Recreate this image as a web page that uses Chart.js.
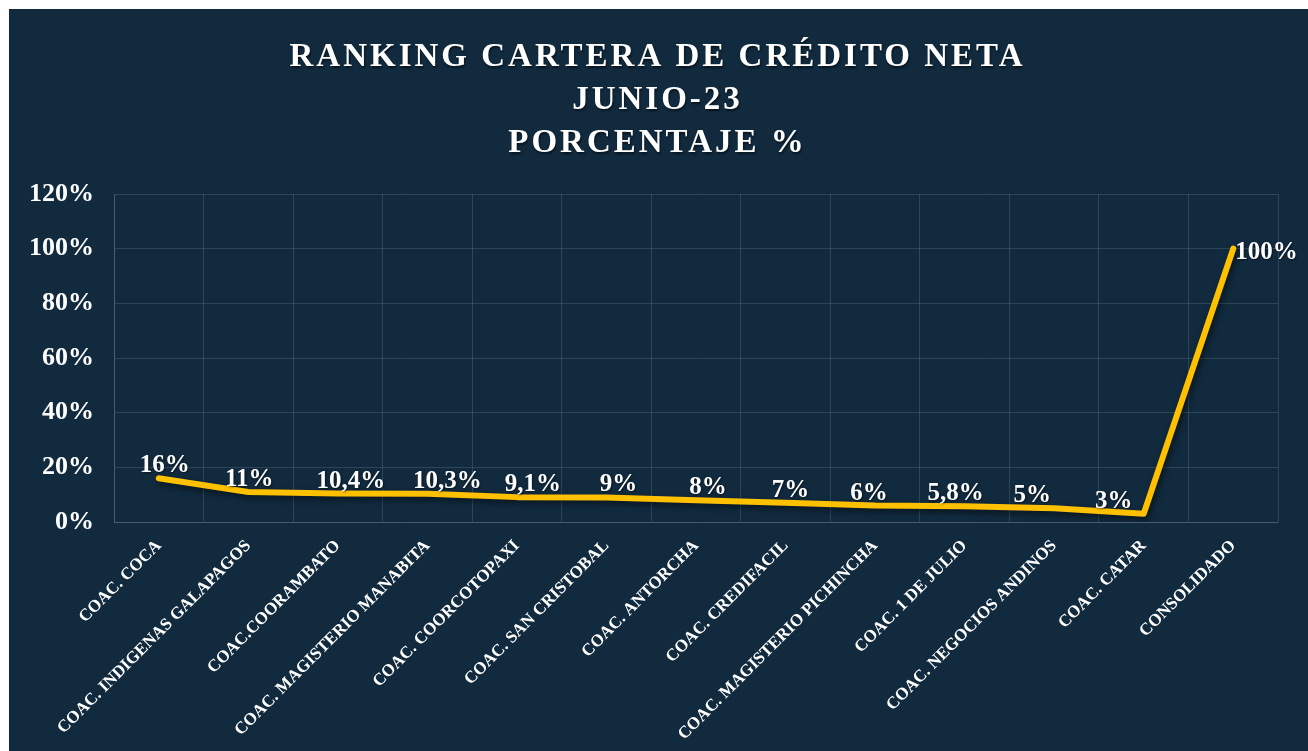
<!DOCTYPE html>
<html>
<head>
<meta charset="utf-8">
<script src="https://cdn.jsdelivr.net/npm/chart.js@4.4.0/dist/chart.umd.min.js"></script>
<style>
  body { margin: 0; background: #ffffff; }
  #wrap { position: absolute; left: 9px; top: 9px; width: 1299px; height: 742px; background: #112a3e; }
</style>
</head>
<body>
<div id="wrap"><canvas id="myChart" width="1299" height="742"></canvas></div>
<script>
//Categories (x axis)
var categories = [
    'COAC. COCA', 'COAC. INDIGENAS GALAPAGOS', 'COAC.COORAMBATO', 'COAC. MAGISTERIO MANABITA',
    'COAC. COORCOTOPAXI', 'COAC. SAN CRISTOBAL', 'COAC. ANTORCHA', 'COAC. CREDIFACIL',
    'COAC. MAGISTERIO PICHINCHA', 'COAC. 1 DE JULIO', 'COAC. NEGOCIOS ANDINOS', 'COAC. CATAR',
    'CONSOLIDADO'
];

//Series values (percent)
var values = [16, 11, 10.4, 10.3, 9.1, 9, 8, 7, 6, 5.8, 5, 3, 100];

//Labels shown over the points
var pointLabels = ['16%', '11%', '10,4%', '10,3%', '9,1%', '9%', '8%', '7%', '6%', '5,8%', '5%', '3%', '100%'];

//Title lines
var titleLines = ['RANKING CARTERA DE CRÉDITO NETA', 'JUNIO-23', 'PORCENTAJE %'];

var fontFamily = '"Liberation Serif", "DejaVu Serif", serif';
var gridColor = 'rgba(255,255,255,0.13)';

//Labels were nudged sideways by hand in the original
var labelShiftX = [6, 1, 13, 20, 16, 12, 12, 5, -6, -9, -22, -30, 2];

//Title drawn by hand (needs letter spacing)
var titlePlugin = {
    id: 'bigTitle',
    afterDraw: function (chart) {
        var ctx = chart.ctx;
        ctx.save();
        ctx.font = 'bold 33px ' + fontFamily;
        ctx.fillStyle = '#ffffff';
        ctx.textAlign = 'center';
        ctx.textBaseline = 'alphabetic';
        ctx.letterSpacing = '3px';
        ctx.shadowColor = 'rgba(0,0,0,0.5)';
        ctx.shadowOffsetX = 1;
        ctx.shadowOffsetY = 2;
        ctx.shadowBlur = 2;
        var baselines = [57, 100, 143];
        titleLines.forEach(function (t, i) {
            ctx.fillText(t, chart.width / 2 - 1, baselines[i]);
        });
        ctx.restore();
    }
};

//Shadow under the line
var lineShadow = {
    id: 'lineShadow',
    beforeDatasetsDraw: function (chart) {
        var ctx = chart.ctx;
        ctx.save();
        ctx.shadowColor = 'rgba(0,0,0,0.55)';
        ctx.shadowBlur = 6;
        ctx.shadowOffsetX = 2;
        ctx.shadowOffsetY = 3;
    },
    afterDatasetsDraw: function (chart) {
        chart.ctx.restore();
    }
};

//Value labels
var valueLabels = {
    id: 'valueLabels',
    afterDatasetsDraw: function (chart) {
        var ctx = chart.ctx;
        var meta = chart.getDatasetMeta(0);
        ctx.save();
        ctx.font = 'bold 25px ' + fontFamily;
        ctx.fillStyle = '#ffffff';
        ctx.shadowColor = 'rgba(0,0,0,0.5)';
        ctx.shadowOffsetX = 1;
        ctx.shadowOffsetY = 1;
        ctx.shadowBlur = 2;
        meta.data.forEach(function (pt, i) {
            if (i === meta.data.length - 1) {
                ctx.textAlign = 'left';
                ctx.textBaseline = 'middle';
                ctx.fillText(pointLabels[i], pt.x + labelShiftX[i], pt.y + 4);
            } else {
                ctx.textAlign = 'center';
                ctx.textBaseline = 'alphabetic';
                ctx.fillText(pointLabels[i], pt.x + labelShiftX[i], pt.y - 6);
            }
        });
        ctx.restore();
    }
};

var ctx = document.getElementById('myChart').getContext('2d');
var myChart = new Chart(ctx, {
    type: 'line',
    data: {
        labels: categories,
        datasets: [{
            data: values,
            borderColor: '#FFC000',
            borderWidth: 6,
            borderCapStyle: 'round',
            borderJoinStyle: 'round',
            pointRadius: 0,
            tension: 0,
            fill: false
        }]
    },
    options: {
        responsive: false,
        animation: false,
        layout: { padding: { top: 185, right: 30, left: 0, bottom: 0 } },
        plugins: {
            legend: { display: false },
            title: { display: false },
            tooltip: { enabled: false }
        },
        scales: {
            x: {
                offset: true,
                grid: { offset: true, color: gridColor, drawTicks: false },
                border: { color: gridColor },
                ticks: {
                    autoSkip: false,
                    maxRotation: 45,
                    minRotation: 45,
                    padding: 14,
                    color: '#ffffff',
                    font: { family: fontFamily, size: 17, weight: 'bold' }
                },
                afterFit: function (scale) { scale.height = 229; }
            },
            y: {
                min: 0,
                max: 120,
                grid: { color: gridColor, drawTicks: false },
                border: { color: gridColor },
                ticks: {
                    stepSize: 20,
                    padding: 20,
                    color: '#ffffff',
                    font: { family: fontFamily, size: 26, weight: 'bold' },
                    callback: function (v) { return v + '%'; }
                },
                afterFit: function (scale) { scale.width = 105; }
            }
        }
    },
    plugins: [lineShadow, valueLabels, titlePlugin]
});
</script>
</body>
</html>
